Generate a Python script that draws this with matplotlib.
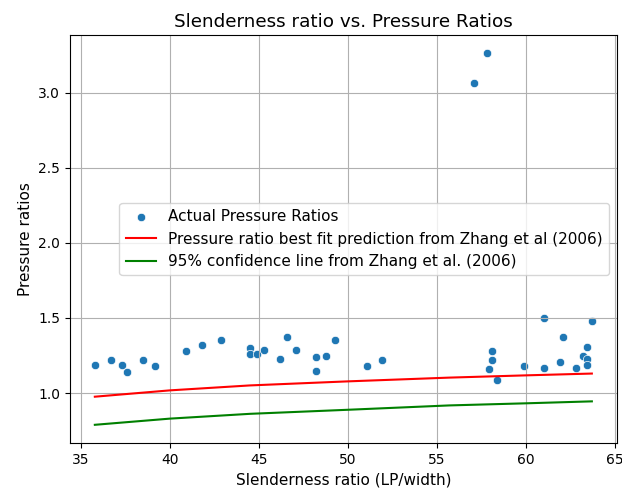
import matplotlib
matplotlib.use("Agg")
import matplotlib.pyplot as plt
import seaborn as sns

# measured slenderness ratios and pressure ratios
slenderness = [35.8, 36.7, 37.3, 37.6, 38.5, 39.2, 40.9, 41.8, 42.9,
               44.5, 44.5, 44.9, 45.3, 46.2, 46.6, 47.1, 48.2, 48.2,
               48.8, 49.3, 51.1, 51.9, 57.1, 57.8, 57.9, 58.1, 58.1,
               58.4, 59.9, 61.0, 61.0, 61.9, 62.1, 62.8, 63.2, 63.4,
               63.4, 63.4, 63.7]
pressure_ratio = [1.19, 1.22, 1.19, 1.14, 1.22, 1.18, 1.28, 1.32, 1.35,
                  1.30, 1.26, 1.26, 1.29, 1.23, 1.37, 1.29, 1.24, 1.15,
                  1.25, 1.35, 1.18, 1.22, 3.06, 3.26, 1.16, 1.28, 1.22,
                  1.09, 1.18, 1.50, 1.17, 1.21, 1.37, 1.17, 1.25, 1.31,
                  1.23, 1.19, 1.48]

# Zhang et al. (2006) curves
fit_x = [35.8, 40.0, 44.5, 50.0, 55.7, 60.0, 63.7]
best_fit = [0.976, 1.018, 1.051, 1.078, 1.103, 1.118, 1.130]
conf_95 = [0.789, 0.830, 0.862, 0.889, 0.918, 0.932, 0.945]

fig = plt.figure(figsize=(6.22, 4.91), dpi=100)
ax = fig.add_axes([0.1125, 0.097, 0.879, 0.832])

sns.scatterplot(x=slenderness, y=pressure_ratio, ax=ax, label='Actual Pressure Ratios')
ax.plot(fit_x, best_fit, color='red',
        label='Pressure ratio best fit prediction from Zhang et al (2006)')
ax.plot(fit_x, conf_95, color='green',
        label='95% confidence line from Zhang et al. (2006)')

ax.set_xlabel('Slenderness ratio (LP/width)', fontsize=11)
ax.set_ylabel('Pressure ratios', fontsize=11)
ax.set_title('Slenderness ratio vs. Pressure Ratios', fontsize=13.2)
ax.grid(True)
ax.legend(loc='center right', fontsize=11)

fig.savefig('out.png', dpi=100)
